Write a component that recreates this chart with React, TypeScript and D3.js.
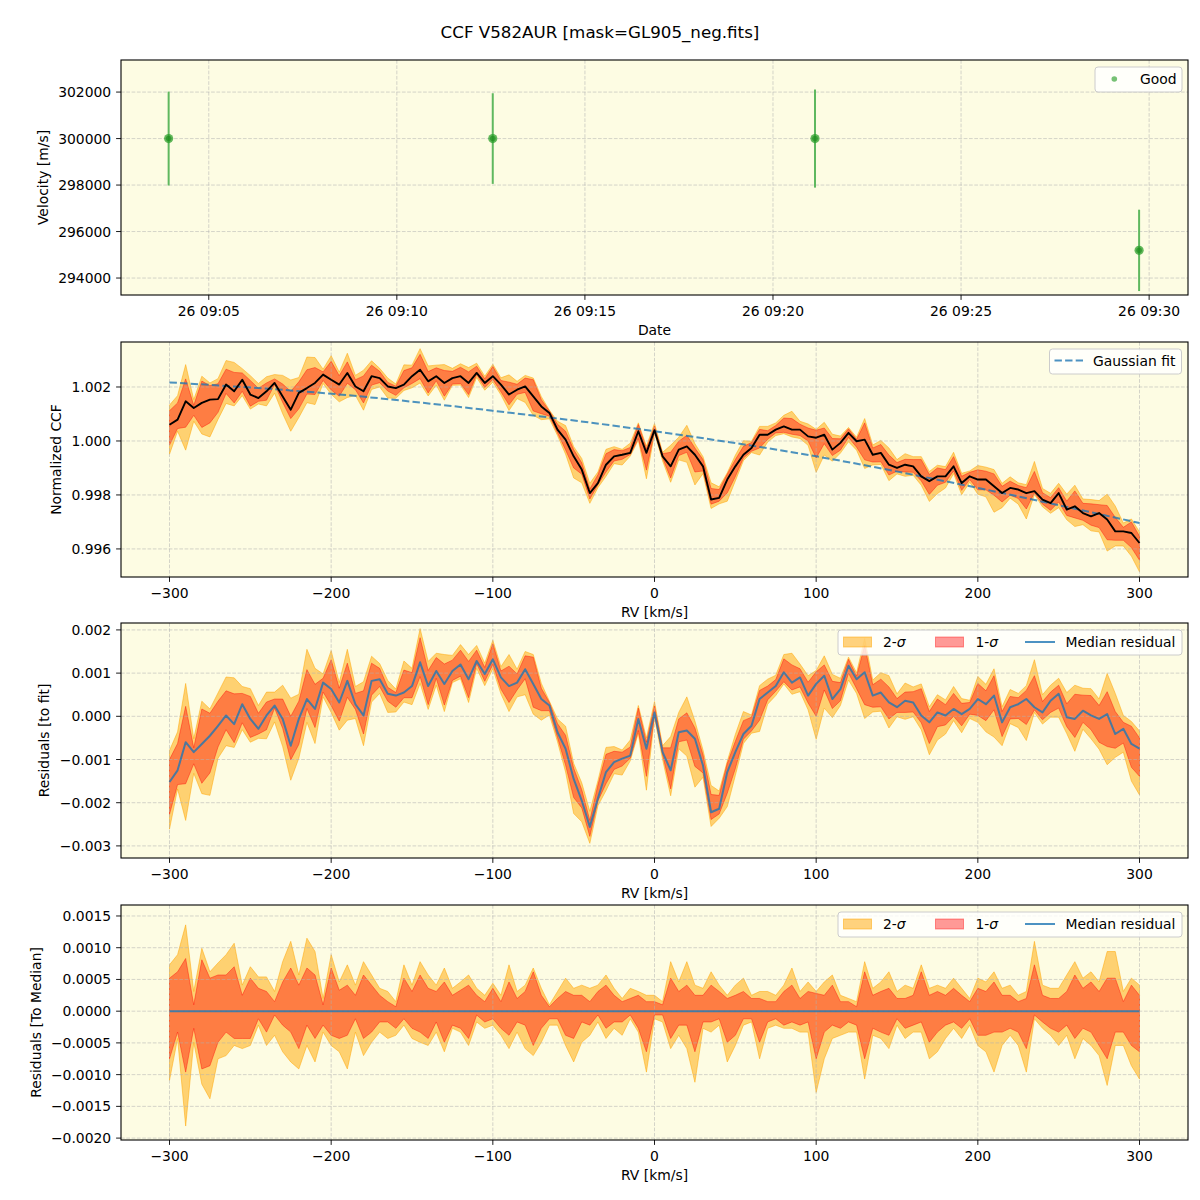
import React from "react";
import * as d3 from "d3";

// ---------- top panel: one velocity per exposure ----------
const obsTimes = ["2023-01-26 09:03:56", "2023-01-26 09:12:33", "2023-01-26 09:21:07", "2023-01-26 09:29:44"];
const obsVelocity = [300000, 300000, 300000, 295190];
const obsError = [2020, 1950, 2110, 1750];

// ---------- CCF grid (km/s) ----------
const rv = [
  -300, -295, -290, -285, -280, -275, -270, -265, -260, -255,
  -250, -245, -240, -235, -230, -225, -220, -215, -210, -205,
  -200, -195, -190, -185, -180, -175, -170, -165, -160, -155,
  -150, -145, -140, -135, -130, -125, -120, -115, -110, -105,
  -100, -95, -90, -85, -80, -75, -70, -65, -60, -55,
  -50, -45, -40, -35, -30, -25, -20, -15, -10, -5,
  0, 5, 10, 15, 20, 25, 30, 35, 40, 45,
  50, 55, 60, 65, 70, 75, 80, 85, 90, 95,
  100, 105, 110, 115, 120, 125, 130, 135, 140, 145,
  150, 155, 160, 165, 170, 175, 180, 185, 190, 195,
  200, 205, 210, 215, 220, 225, 230, 235, 240, 245,
  250, 255, 260, 265, 270, 275, 280, 285, 290, 295,
  300,
];

// median normalized CCF
const ccfMedian = [
  1.0006, 1.00079, 1.00147, 1.00122, 1.00141, 1.00153, 1.00155, 1.00209, 1.00184, 1.00227,
  1.00172, 1.00159, 1.00184, 1.00215, 1.00165, 1.00116, 1.00178, 1.00196, 1.00215, 1.00246,
  1.00227, 1.00209, 1.00252, 1.00202, 1.00184, 1.0024, 1.00233, 1.00202, 1.00196, 1.00209,
  1.0024, 1.00264, 1.00221, 1.0024, 1.00215, 1.00233, 1.0024, 1.00215, 1.00252, 1.00215,
  1.0024, 1.00209, 1.00172, 1.0019, 1.00202, 1.00165, 1.00128, 1.00104, 1.00042, 1.00005,
  0.99943, 0.99894, 0.99807, 0.99844, 0.99912, 0.99943, 0.99949, 0.99956, 1.00036, 0.99956,
  1.0004, 0.99943, 0.99906, 0.99968, 0.9998, 0.99949, 0.99906, 0.99783, 0.99789, 0.99857,
  0.99906, 0.99949, 0.99974, 1.00023, 1.00023, 1.00042, 1.00054, 1.00042, 1.00042, 1.00017,
  1.00012, 1.00023, 0.99968, 0.99993, 1.0003, 0.99999, 1.00005, 0.99949, 0.99956, 0.99912,
  0.999, 0.99912, 0.99906, 0.99869, 0.99851, 0.99869, 0.99869, 0.99906, 0.99844, 0.99869,
  0.99857, 0.99857, 0.99832, 0.99807, 0.99826, 0.9982, 0.99807, 0.99814, 0.99783, 0.9977,
  0.99807, 0.99746, 0.99758, 0.99733, 0.99721, 0.99733, 0.99709, 0.99665, 0.99665, 0.99659,
  0.99622,
];

// gaussian fit, sampled coarsely (smooth curve)
const fitRv = [-300, -200, -100, 0, 100, 200, 300];
const fitCcf = [1.00217, 1.00175, 1.00112, 1.00036, 0.99943, 0.99826, 0.99696];

// median residual to the fit
const residualMedian = [
  -0.00152, -0.00125, -0.0006, -0.00083, -0.00064, -0.00045, -0.00022, 0.00002, -0.00018, 0.00028,
  -0.00006, -0.00029, 0.00002, 0.00025, -0.00006, -0.00068, -0.00006, 0.0004, 0.00017, 0.00078,
  0.00063, 0.00032, 0.00082, 0.00028, 0.00002, 0.00082, 0.00086, 0.00052, 0.00048, 0.00055,
  0.0007, 0.00125, 0.0007, 0.00105, 0.00075, 0.00105, 0.0012, 0.00086, 0.00128, 0.00098,
  0.00132, 0.0009, 0.0007, 0.00078, 0.00109, 0.00075, 0.0004, 0.00025, -0.00037, -0.00075,
  -0.00145, -0.00195, -0.00256, -0.0019, -0.00129, -0.00106, -0.00098, -0.00091, -0.00006, -0.00075,
  0.00009, -0.00083, -0.00125, -0.00037, -0.00033, -0.00052, -0.00114, -0.00222, -0.00214, -0.00129,
  -0.00083, -0.00041, -0.00022, 0.0004, 0.00055, 0.0007, 0.00102, 0.00078, 0.0009, 0.00048,
  0.00075, 0.00094, 0.0004, 0.00063, 0.00117, 0.00086, 0.00102, 0.00048, 0.00055, 0.00032,
  0.00021, 0.00036, 0.00032, 0.00002, -0.00014, 0.00009, 0.00002, 0.00017, 0.00005, 0.00017,
  0.0004, 0.00028, 0.00048, -0.00014, 0.00021, 0.00028, 0.0004, 0.00021, 0.00009, 0.00036,
  0.00052, -0.00002, -0.00006, 0.00013, 0.00002, -0.00006, 0.00005, -0.00041, -0.00029, -0.00064,
  -0.00075,
];

// spread of the individual CCFs around the median, in units of 1e-4
const BAND_UNIT = 1e-4;
const hi2 = [
  7.3, 8.9, 13.6, 3.1, 9.9, 6.2, 7.6, 8.9, 10.7, 4.1,
  7.0, 5.4, 5.4, 3.1, 7.8, 11.0, 5.7, 11.5, 9.4, 2.0,
  8.9, 4.6, 7.3, 4.1, 7.8, 5.7, 3.6, 3.1, 1.5, 7.3,
  4.1, 7.8, 5.7, 4.1, 6.8, 3.6, 4.6, 5.7, 3.6, 2.5,
  4.4, 2.5, 7.3, 3.1, 4.1, 6.8, 3.6, 1.0, 3.1, 5.2,
  3.6, 4.1, 3.6, 4.1, 5.7, 3.6, 2.0, 3.6, 3.1, 2.5,
  2.5, 1.5, 7.8, 4.6, 7.8, 4.1, 3.6, 6.2, 4.1, 2.5,
  4.1, 5.2, 2.5, 3.1, 3.1, 2.5, 4.1, 6.8, 3.1, 4.6,
  3.1, 4.6, 5.7, 2.5, 2.0, 1.5, 7.8, 3.6, 4.6, 6.2,
  3.1, 4.1, 3.6, 7.3, 3.6, 4.1, 3.6, 5.2, 3.6, 2.0,
  5.2, 4.6, 6.2, 3.6, 4.1, 2.5, 3.1, 11.0, 4.1, 3.6,
  3.6, 5.7, 7.8, 5.2, 6.2, 4.6, 9.4, 9.4, 3.1, 5.2,
  4.1,
];
const hi1 = [
  5.2, 6.2, 8.3, 1.0, 8.1, 5.2, 5.7, 5.7, 7.0, 2.5,
  5.2, 3.6, 3.1, 1.5, 4.6, 6.8, 4.1, 6.8, 5.7, 1.0,
  6.8, 3.3, 4.1, 2.5, 5.7, 4.1, 2.5, 1.5, 0.7, 5.2,
  3.1, 5.7, 3.6, 3.1, 4.6, 2.5, 3.3, 4.1, 2.5, 1.5,
  3.6, 1.5, 4.6, 2.0, 3.1, 6.2, 2.5, 0.7, 2.0, 3.1,
  2.5, 2.5, 1.5, 3.1, 4.1, 2.5, 1.5, 2.0, 2.5, 1.5,
  1.5, 1.0, 5.2, 3.1, 4.1, 2.5, 2.5, 4.1, 3.1, 2.0,
  2.5, 3.1, 2.0, 2.0, 1.5, 1.5, 3.1, 4.1, 2.0, 3.1,
  2.8, 2.5, 4.1, 1.5, 1.5, 0.7, 6.2, 2.5, 3.1, 3.6,
  2.0, 2.0, 2.5, 6.2, 2.5, 3.1, 2.5, 3.6, 2.5, 1.5,
  3.6, 3.1, 4.6, 2.5, 2.5, 1.5, 2.0, 7.3, 2.5, 2.0,
  2.0, 3.1, 5.7, 3.6, 4.6, 3.1, 5.2, 5.2, 1.5, 4.1,
  2.5,
];
const lo1 = [
  -7.5, -3.3, -9.6, -2.7, -9.1, -8.6, -4.9, -3.3, -4.3, -4.3,
  -4.3, -1.2, -3.3, -0.6, -2.2, -3.3, -5.9, -2.2, -4.3, -2.2,
  -3.8, -4.3, -3.8, -1.2, -4.3, -3.3, -1.7, -1.7, -2.7, -1.2,
  -2.7, -3.3, -4.3, -1.7, -4.9, -2.2, -2.7, -4.3, -0.6, -1.7,
  -1.2, -2.7, -3.8, -1.7, -2.2, -5.4, -2.7, -1.2, -1.2, -3.8,
  -4.3, -1.7, -2.2, -0.6, -2.7, -1.7, -1.7, -0.6, -2.7, -6.4,
  -0.6, -0.6, -4.3, -2.2, -2.2, -6.4, -1.7, -1.7, -1.2, -4.9,
  -3.8, -1.2, -1.2, -4.9, -1.7, -1.2, -2.2, -1.7, -2.2, -1.7,
  -7.5, -3.3, -2.2, -2.7, -1.7, -2.2, -7.5, -2.7, -3.3, -3.8,
  -1.2, -2.7, -2.2, -1.7, -4.9, -3.3, -2.2, -1.7, -2.7, -1.2,
  -3.8, -3.8, -3.3, -3.3, -2.7, -3.3, -5.9, -0.6, -1.7, -2.7,
  -3.3, -2.2, -4.3, -2.7, -3.3, -5.4, -7.5, -3.3, -3.3, -5.4,
  -6.4,
];
const lo2 = [
  -10.9, -4.3, -18.1, -4.9, -11.5, -13.8, -7.5, -7.0, -5.4, -5.9,
  -5.4, -2.2, -5.4, -3.8, -6.4, -8.0, -9.1, -5.4, -8.0, -3.3,
  -5.4, -6.4, -9.1, -3.3, -7.0, -4.9, -3.3, -4.3, -3.8, -2.2,
  -4.3, -4.9, -5.4, -3.3, -6.4, -2.7, -3.3, -5.4, -1.7, -2.7,
  -2.2, -3.8, -5.9, -3.3, -5.9, -7.0, -4.9, -2.2, -2.2, -5.4,
  -8.0, -4.9, -3.8, -1.7, -4.3, -2.7, -3.8, -1.2, -3.3, -9.6,
  -1.2, -1.7, -5.9, -3.8, -5.9, -11.2, -2.7, -3.3, -2.2, -8.0,
  -5.4, -2.2, -1.7, -7.5, -2.7, -2.2, -2.7, -2.7, -3.3, -3.3,
  -12.8, -7.5, -4.3, -3.8, -3.3, -3.3, -10.7, -3.8, -4.3, -5.9,
  -2.2, -4.3, -3.3, -3.3, -7.5, -6.4, -4.3, -2.7, -4.3, -2.2,
  -5.4, -6.4, -9.6, -5.4, -3.8, -5.4, -9.6, -1.2, -2.7, -3.8,
  -5.4, -3.8, -7.5, -4.3, -5.4, -7.0, -11.7, -5.4, -5.4, -8.6,
  -10.7,
];

// ---------- ticks ----------
const timeTicks = ["2023-01-26 09:05:00", "2023-01-26 09:10:00", "2023-01-26 09:15:00", "2023-01-26 09:20:00", "2023-01-26 09:25:00", "2023-01-26 09:30:00"];
const velTicks = [294000, 296000, 298000, 300000, 302000];
const rvTicks = [-300, -200, -100, 0, 100, 200, 300];
const ccfTicks = [0.996, 0.998, 1.0, 1.002];
const resTicks = [-0.003, -0.002, -0.001, 0, 0.001, 0.002];
const medTicks = [-0.002, -0.0015, -0.001, -0.0005, 0, 0.0005, 0.001, 0.0015];

// ---------- layout ----------
const FONT = "DejaVu Sans, Verdana, sans-serif";
const FS = 13.9;
const X0 = 121;
const X1 = 1188;
const BG = "#fdfce3";
const BLUE = "#1f77b4";
const TICK = 4.9;

const parseTime = d3.timeParse("%Y-%m-%d %H:%M:%S");
const fmtTime = d3.timeFormat("%d %H:%M");
const minus = (s: string) => s.replace("-", "\u2212");

const xTime = d3
  .scaleTime()
  .domain([parseTime("2023-01-26 09:02:40")!, parseTime("2023-01-26 09:31:02")!])
  .range([X0, X1]);
const xRv = d3.scaleLinear().domain([-330, 330]).range([X0, X1]);

const y1 = d3.scaleLinear().domain([293270, 303380]).range([295, 60]);
const y2 = d3.scaleLinear().domain([0.99496, 1.003667]).range([577, 342]);
const y3 = d3.scaleLinear().domain([-0.00328, 0.00216]).range([858, 623]);
const y4 = d3.scaleLinear().domain([-0.00203, 0.001673]).range([1140, 905]);

const band = (
  y: d3.ScaleLinear<number, number>,
  base: number[] | null,
  lo: number[],
  hi: number[]
) =>
  d3
    .area<number>()
    .x((d) => xRv(d))
    .y0((_, i) => y((base ? base[i] : 0) + lo[i] * BAND_UNIT))
    .y1((_, i) => y((base ? base[i] : 0) + hi[i] * BAND_UNIT))(rv) || "";

const seriesLine = (y: d3.ScaleLinear<number, number>, xs: number[], vals: number[], curve = d3.curveLinear) =>
  d3
    .line<number>()
    .x((d) => xRv(d))
    .y((_, i) => y(vals[i]))
    .curve(curve)(xs) || "";

const Bands = ({ y, base }: { y: d3.ScaleLinear<number, number>; base: number[] | null }) => (
  <g>
    <path d={band(y, base, lo2, hi2)} fill="orange" fillOpacity={0.5} stroke="orange" strokeOpacity={0.5} strokeWidth={1} />
    <path d={band(y, base, lo1, hi1)} fill="red" fillOpacity={0.4} stroke="red" strokeOpacity={0.4} strokeWidth={1} />
  </g>
);

type AxesProps = {
  top: number;
  bottom: number;
  xPos: number[];
  xLabels: string[];
  yScale: d3.ScaleLinear<number, number>;
  yTicks: number[];
  yFormat: (v: number) => string;
  xTitle: string;
  yTitle: string;
  yTitleX: number;
  under?: React.ReactNode;
  over?: React.ReactNode;
  legend?: React.ReactNode;
};

const Axes = ({ top, bottom, xPos, xLabels, yScale, yTicks, yFormat, xTitle, yTitle, yTitleX, under, over, legend }: AxesProps) => {
  const midY = (top + bottom) / 2;
  return (
    <g>
      <rect x={X0} y={top} width={X1 - X0} height={bottom - top} fill={BG} />
      {under}
      <g stroke="#b0b0b0" strokeOpacity={0.6} strokeWidth={0.9} strokeDasharray="3.7,1.6">
        {xPos.map((x, i) => (
          <line key={"gx" + i} x1={x} x2={x} y1={top} y2={bottom} />
        ))}
        {yTicks.map((t, i) => (
          <line key={"gy" + i} x1={X0} x2={X1} y1={yScale(t)} y2={yScale(t)} />
        ))}
      </g>
      {over}
      <rect x={X0} y={top} width={X1 - X0} height={bottom - top} fill="none" stroke="#000" strokeWidth={1.1} />
      <g stroke="#000" strokeWidth={0.9}>
        {xPos.map((x, i) => (
          <line key={"tx" + i} x1={x} x2={x} y1={bottom} y2={bottom + TICK} />
        ))}
        {yTicks.map((t, i) => (
          <line key={"ty" + i} x1={X0 - TICK} x2={X0} y1={yScale(t)} y2={yScale(t)} />
        ))}
      </g>
      <g fontFamily={FONT} fontSize={FS} fill="#000">
        {xPos.map((x, i) => (
          <text key={"lx" + i} x={x} y={bottom + 20.5} textAnchor="middle">
            {xLabels[i]}
          </text>
        ))}
        {yTicks.map((t, i) => (
          <text key={"ly" + i} x={X0 - 2 * TICK} y={yScale(t) + 5} textAnchor="end">
            {yFormat(t)}
          </text>
        ))}
        <text x={(X0 + X1) / 2} y={bottom + 39.5} textAnchor="middle">
          {xTitle}
        </text>
        <text transform={`translate(${yTitleX},${midY}) rotate(-90)`} textAnchor="middle">
          {yTitle}
        </text>
      </g>
      {legend}
    </g>
  );
};

const LegendBox = ({ x, y, w, h }: { x: number; y: number; w: number; h: number }) => (
  <rect x={x} y={y} width={w} height={h} rx={3} fill="#ffffff" fillOpacity={0.8} stroke="#cccccc" strokeWidth={1} />
);

const SigmaLegend = ({ top }: { top: number }) => {
  const y = top + 7;
  return (
    <g fontFamily={FONT} fontSize={FS}>
      <LegendBox x={838} y={y} w={344} h={25} />
      <rect x={843.5} y={y + 7} width={28} height={10} fill="orange" fillOpacity={0.5} stroke="orange" strokeOpacity={0.5} />
      <text x={883} y={y + 17}>
        2-<tspan fontStyle="italic">σ</tspan>
      </text>
      <rect x={935.5} y={y + 7} width={28} height={10} fill="red" fillOpacity={0.4} stroke="red" strokeOpacity={0.4} />
      <text x={975.5} y={y + 17}>
        1-<tspan fontStyle="italic">σ</tspan>
      </text>
      <line x1={1025} x2={1055} y1={y + 12} y2={y + 12} stroke={BLUE} strokeOpacity={0.8} strokeWidth={2} />
      <text x={1065.5} y={y + 17}>Median residual</text>
    </g>
  );
};

export default function App() {
  const obsDates = obsTimes.map((t) => parseTime(t)!);
  const tickDates = timeTicks.map((t) => parseTime(t)!);
  const rvLabels = rvTicks.map((v) => minus(d3.format("d")(v)));

  return (
    <svg
      width={1200}
      height={1200}
      viewBox="0 0 1200 1200"
      style={{ position: "absolute", left: 0, top: 0, background: "#fff" }}
    >
      <rect x={0} y={0} width={1200} height={1200} fill="#fff" />
      <text x={600} y={38} textAnchor="middle" fontFamily={FONT} fontSize={16.7}>
        CCF V582AUR [mask=GL905_neg.fits]
      </text>

      {/* panel 1: velocities */}
      <Axes
        top={60}
        bottom={295}
        xPos={tickDates.map((d) => xTime(d))}
        xLabels={tickDates.map((d) => fmtTime(d))}
        yScale={y1}
        yTicks={velTicks}
        yFormat={(v) => d3.format("d")(v)}
        xTitle="Date"
        yTitle="Velocity [m/s]"
        yTitleX={48}
        over={
          <g>
            {obsDates.map((d, i) => (
              <g key={"obs" + i}>
                <line
                  x1={xTime(d)}
                  x2={xTime(d)}
                  y1={y1(obsVelocity[i] - obsError[i])}
                  y2={y1(obsVelocity[i] + obsError[i])}
                  stroke="#5fb85f"
                  strokeWidth={2}
                />
                <circle cx={xTime(d)} cy={y1(obsVelocity[i])} r={4.6} fill="#2ca02c" fillOpacity={0.75} />
                <circle cx={xTime(d)} cy={y1(obsVelocity[i])} r={2.8} fill="#1a8a1a" fillOpacity={0.6} />
              </g>
            ))}
          </g>
        }
        legend={
          <g fontFamily={FONT} fontSize={FS}>
            <LegendBox x={1095} y={67} w={87} h={25} />
            <circle cx={1114.3} cy={79} r={2.8} fill="#2ca02c" fillOpacity={0.65} />
            <text x={1140} y={83.5}>Good</text>
          </g>
        }
      />

      {/* panel 2: normalized CCF */}
      <Axes
        top={342}
        bottom={577}
        xPos={rvTicks.map((v) => xRv(v))}
        xLabels={rvLabels}
        yScale={y2}
        yTicks={ccfTicks}
        yFormat={(v) => d3.format(".3f")(v)}
        xTitle="RV [km/s]"
        yTitle="Normalized CCF"
        yTitleX={61}
        under={<Bands y={y2} base={ccfMedian} />}
        over={
          <g fill="none">
            <path
              d={seriesLine(y2, fitRv, fitCcf, d3.curveMonotoneX)}
              stroke={BLUE}
              strokeOpacity={0.8}
              strokeWidth={2}
              strokeDasharray="7.4,3.2"
            />
            <path d={seriesLine(y2, rv, ccfMedian)} stroke="#000" strokeWidth={1.9} strokeLinejoin="round" />
          </g>
        }
        legend={
          <g fontFamily={FONT} fontSize={FS}>
            <LegendBox x={1049.5} y={349} w={132} h={25} />
            <line x1={1054.5} x2={1083} y1={360.5} y2={360.5} stroke={BLUE} strokeOpacity={0.8} strokeWidth={2} strokeDasharray="7.4,3.2" />
            <text x={1093} y={366}>Gaussian fit</text>
          </g>
        }
      />

      {/* panel 3: residuals to the fit */}
      <Axes
        top={623}
        bottom={858}
        xPos={rvTicks.map((v) => xRv(v))}
        xLabels={rvLabels}
        yScale={y3}
        yTicks={resTicks}
        yFormat={(v) => minus(d3.format(".3f")(v))}
        xTitle="RV [km/s]"
        yTitle="Residuals [to fit]"
        yTitleX={49}
        under={<Bands y={y3} base={residualMedian} />}
        over={
          <path
            d={seriesLine(y3, rv, residualMedian)}
            fill="none"
            stroke={BLUE}
            strokeOpacity={0.8}
            strokeWidth={2}
            strokeLinejoin="round"
          />
        }
        legend={<SigmaLegend top={623} />}
      />

      {/* panel 4: residuals to the median */}
      <Axes
        top={905}
        bottom={1140}
        xPos={rvTicks.map((v) => xRv(v))}
        xLabels={rvLabels}
        yScale={y4}
        yTicks={medTicks}
        yFormat={(v) => minus(d3.format(".4f")(v))}
        xTitle="RV [km/s]"
        yTitle="Residuals [To Median]"
        yTitleX={41}
        under={<Bands y={y4} base={null} />}
        over={
          <line
            x1={xRv(rv[0])}
            x2={xRv(rv[rv.length - 1])}
            y1={y4(0)}
            y2={y4(0)}
            stroke={BLUE}
            strokeOpacity={0.8}
            strokeWidth={2}
          />
        }
        legend={<SigmaLegend top={905} />}
      />
    </svg>
  );
}
